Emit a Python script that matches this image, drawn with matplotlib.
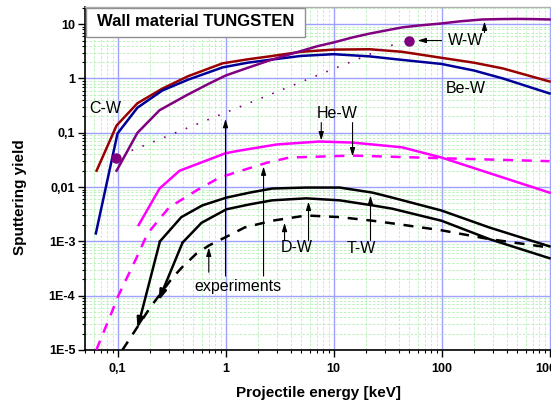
import matplotlib
matplotlib.use("Agg")
import matplotlib.pyplot as plt
from matplotlib.ticker import FixedLocator, FixedFormatter, LogLocator, NullFormatter
from matplotlib.patches import Rectangle

plt.rcParams['font.family'] = ['Liberation Sans', 'DejaVu Sans']

# ---- axis ticks ----
x_ticks = [0.1, 1, 10, 100, 1000]
x_tick_labels = ["0,1", "1", "10", "100", "1000"]
y_ticks = [1e-5, 1e-4, 1e-3, 1e-2, 1e-1, 1, 10]
y_tick_labels = ["1E-5", "1E-4", "1E-3", "0,01", "0,1", "1", "10"]

# ---- calculated yields (energy in keV) ----
cw_e = [0.064, 0.098, 0.153, 0.26, 0.45, 0.94, 1.6, 2.55, 5, 10, 21.6, 43, 100, 200, 370, 1000]
cw_y = [0.02, 0.136, 0.35, 0.65, 1.1, 1.9, 2.25, 2.55, 3.1, 3.4, 3.45, 3.1, 2.4, 1.95, 1.53, 0.88]

bew_e = [0.063, 0.1, 0.153, 0.26, 0.45, 0.94, 1.6, 2.55, 5, 10, 21.6, 43, 100, 200, 370, 1000]
bew_y = [0.0014, 0.097, 0.29, 0.6, 0.95, 1.6, 1.95, 2.2, 2.6, 2.8, 2.55, 2.2, 1.85, 1.4, 1.0, 0.53]

ww_e = [0.098, 0.153, 0.245, 0.435, 0.7, 1, 1.5, 2.55, 3.5, 5, 7, 10, 15, 21.6, 30, 43, 60,
        100, 150, 240, 350, 500, 700, 1000]
ww_y = [0.02, 0.1, 0.26, 0.49, 0.8, 1.13, 1.5, 2.15, 2.6, 3.2, 3.9, 4.6, 5.7, 6.7, 7.6, 8.7, 9.4,
        10.3, 11.3, 12.2, 12.4, 12.5, 12.4, 12.2]

hew_e = [0.157, 0.245, 0.375, 0.67, 1, 1.35, 3.0, 7.4, 15, 43, 100, 370, 1000]
hew_y = [0.002, 0.0094, 0.020, 0.031, 0.042, 0.047, 0.061, 0.069, 0.066, 0.054, 0.035, 0.015, 0.0079]

tw_e = [0.153, 0.247, 0.39, 0.61, 1.02, 1.67, 2.7, 5.6, 11.4, 23, 35, 100, 278, 1000]
tw_y = [2.5e-5, 1e-3, 0.0028, 0.0046, 0.0064, 0.0079, 0.0094, 0.0098, 0.0098, 0.0079, 0.0064, 0.0037, 0.0018, 0.00081]

dw_e = [0.24, 0.40, 0.6, 1.02, 1.67, 2.7, 5.6, 11.4, 23, 35, 100, 278, 1000]
dw_y = [8.1e-5, 9.5e-4, 0.0022, 0.0039, 0.0048, 0.0057, 0.0062, 0.0057, 0.0046, 0.0040, 0.0024, 0.0011, 0.00049]

# ---- experimental data ----
hew_exp_e = [0.0636, 0.09, 0.1, 0.15, 0.19, 0.30, 0.54, 0.88, 2.4, 3.9, 15, 100, 1000]
hew_exp_y = [1e-5, 5.4e-5, 9.3e-5, 5e-4, 1.4e-3, 4.2e-3, 8.7e-3, 0.015, 0.028, 0.035, 0.038, 0.034, 0.030]

dw_exp_e = [0.111, 0.2, 0.32, 0.4, 0.54, 0.71, 1.09, 1.5, 2.7, 5.6, 11.4, 23, 38, 100, 278, 1000]
dw_exp_y = [1e-5, 6e-5, 2.1e-4, 3.4e-4, 6e-4, 8.5e-4, 1.3e-3, 1.8e-3, 2.4e-3, 3e-3, 2.8e-3, 2.4e-3, 2.1e-3, 1.6e-3, 1.1e-3, 7.7e-4]

ww_trend_e = [0.135, 38]
ww_trend_y = [0.047, 4.4]
ww_pts_e = [0.096, 50]
ww_pts_y = [0.034, 5.0]

# ---- figure ----
fig = plt.figure(figsize=(5.51, 4.05), dpi=100)
ax = fig.add_axes([85 / 551, 55 / 405, 466 / 551, 343 / 405])
ax.set_xscale('log')
ax.set_yscale('log')
ax.set_xlim(0.05, 1032)
ax.set_ylim(1e-5, 20.7)

ax.xaxis.set_major_locator(FixedLocator(x_ticks))
ax.xaxis.set_major_formatter(FixedFormatter(x_tick_labels))
ax.yaxis.set_major_locator(FixedLocator(y_ticks))
ax.yaxis.set_major_formatter(FixedFormatter(y_tick_labels))
for axis in (ax.xaxis, ax.yaxis):
    axis.set_minor_locator(LogLocator(base=10, subs=range(2, 10), numticks=30))
    axis.set_minor_formatter(NullFormatter())

ax.tick_params(which='major', direction='out', length=5, width=1, labelsize=9, pad=2)
ax.tick_params(axis='x', which='major', pad=4)
ax.tick_params(which='minor', direction='out', length=2.5, width=0.8)
for lbl in ax.get_xticklabels() + ax.get_yticklabels():
    lbl.set_fontweight('bold')

ax.set_axisbelow(True)
ax.grid(which='minor', color='#b4f0b4', linestyle=(0, (3, 2)), linewidth=0.6)
ax.grid(which='major', color='#a0a0ff', linestyle='-', linewidth=1.0)

for side in ('left', 'bottom'):
    ax.spines[side].set_color('black')
    ax.spines[side].set_linewidth(1.2)
ax.spines['top'].set_color('#b0b0b0')
ax.spines['top'].set_linewidth(1.0)
ax.spines['right'].set_visible(False)

lw = 1.8
dash = (0, (4, 3.5))

ax.plot(cw_e, cw_y, color='#990000', lw=lw, zorder=3)
ax.plot(bew_e, bew_y, color='#000099', lw=lw, zorder=3)
ax.plot(ww_e, ww_y, color='#800080', lw=lw, zorder=3)
ax.plot(ww_trend_e, ww_trend_y, color='#800080', lw=1.2, linestyle=(0, (1, 6)), zorder=3)
ax.plot(ww_pts_e, ww_pts_y, 'o', color='#800080', markersize=6.5, zorder=4)

ax.plot(hew_e, hew_y, color='#ff00ff', lw=lw, zorder=3)
ax.plot(hew_exp_e, hew_exp_y, color='#ff00ff', lw=lw, linestyle=dash, zorder=3)

# threshold region: curves continue downward, marked with an arrow tip
for e, y in ((tw_e, tw_y), (dw_e, dw_y)):
    ax.plot(e[1:], y[1:], color='black', lw=lw, zorder=3)
    ax.annotate('', xy=(e[0], y[0]), xytext=(e[1], y[1]),
                arrowprops=dict(arrowstyle='-|>,head_length=0.6,head_width=0.2',
                                lw=lw, color='black', shrinkA=0, shrinkB=0),
                zorder=3)
ax.plot(dw_exp_e, dw_exp_y, color='black', lw=lw, linestyle=dash, zorder=3)

# ---- labels and pointers ----
lab_kw = dict(fontsize=11.5, ha='center', va='center', zorder=5)
arr = dict(arrowstyle='-|>,head_length=0.5,head_width=0.15', lw=0.8,
           color='black', shrinkA=0, shrinkB=0)


def pointer(x0, y0, x1, y1):
    ax.annotate('', xy=(x1, y1), xytext=(x0, y0), arrowprops=arr, zorder=5)


ax.text(0.0774, 0.28, 'C-W', **lab_kw)
ax.text(167, 0.65, 'Be-W', **lab_kw)
ax.text(167, 5.0, 'W-W', **lab_kw)
pointer(100, 5.0, 60, 5.0)
pointer(250, 7.0, 250, 11.2)

ax.text(10.7, 0.227, 'He-W', **lab_kw)
pointer(7.7, 0.154, 7.7, 0.072)
pointer(15, 0.154, 15, 0.0366)

ax.text(4.54, 7.7e-4, 'D-W', **lab_kw)
pointer(3.52, 1.04e-3, 3.52, 2.2e-3)
pointer(5.87, 1.04e-3, 5.87, 5.4e-3)

ax.text(18.2, 7.4e-4, 'T-W', **lab_kw)
pointer(22, 1.04e-3, 22, 7.0e-3)

ax.text(1.29, 1.48e-4, 'experiments', **lab_kw)
pointer(0.70, 2.7e-4, 0.70, 7.7e-4)
pointer(1.0, 2.3e-4, 1.0, 0.18)
pointer(2.25, 2.3e-4, 2.25, 0.024)

# title box
ax.add_patch(Rectangle((1 / 466, 313 / 343), 219 / 466, 29 / 343,
                       transform=ax.transAxes, facecolor='white',
                       edgecolor='#909090', lw=1.0, zorder=6))
ax.text(12 / 466, 328 / 343, 'Wall material TUNGSTEN', transform=ax.transAxes,
        fontsize=12, fontweight='bold', ha='left', va='center', zorder=7)

ax.set_xlabel('Projectile energy [keV]', fontsize=11, fontweight='bold')
ax.set_ylabel('Sputtering yield', fontsize=11, fontweight='bold')
ax.xaxis.set_label_coords(0.5, -0.105)
ax.yaxis.set_label_coords(-0.1245, 0.446)

fig.savefig('out.png', dpi=100)
